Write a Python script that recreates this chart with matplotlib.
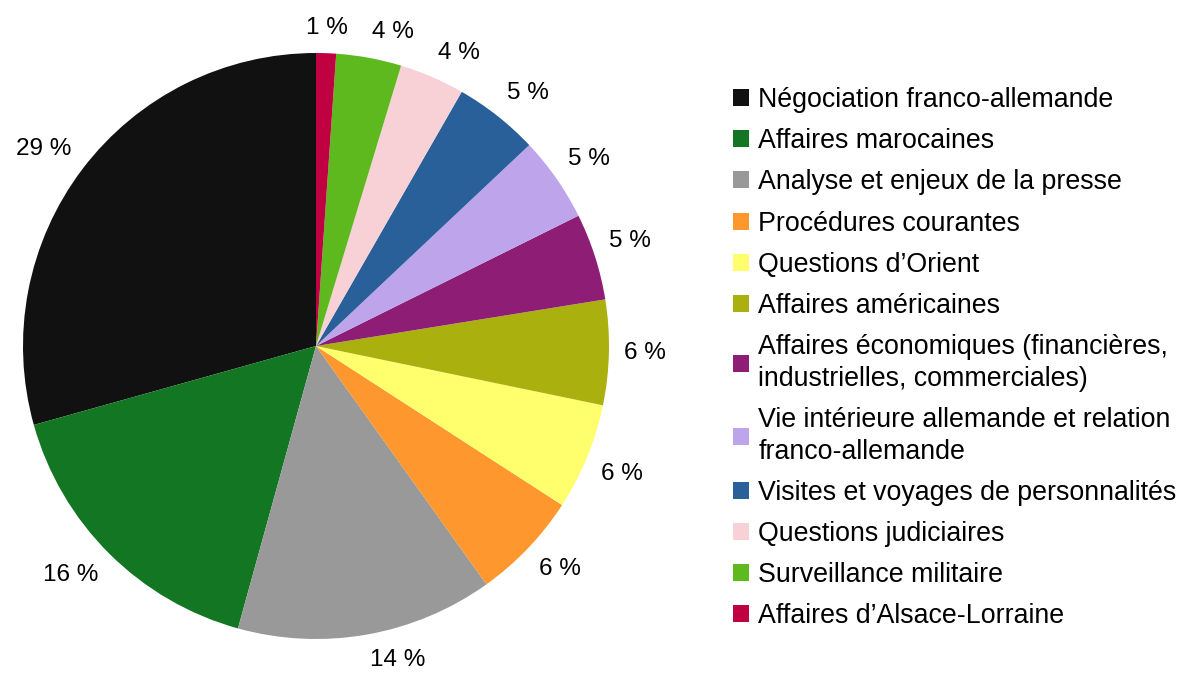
import numpy as np
import matplotlib.pyplot as plt

# Données (parts)
categories = [
    'Négociation franco-allemande',
    'Affaires marocaines',
    'Analyse et enjeux de la presse',
    'Procédures courantes',
    'Questions d’Orient',
    'Affaires américaines',
    'Affaires économiques (financières,\nindustrielles, commerciales)',
    'Vie intérieure allemande et relation\nfranco-allemande',
    'Visites et voyages de personnalités',
    'Questions judiciaires',
    'Surveillance militaire',
    'Affaires d’Alsace-Lorraine',
]
parts = [29.4, 16.4, 14.2, 6.0, 5.9, 5.8, 4.8, 4.7, 4.7, 3.6, 3.6, 1.1]
couleurs = ['#111111', '#127622', '#999999', '#ff972f', '#ffff6d', '#aab00d',
            '#8d1d75', '#bea4eb', '#2a6099', '#f7d1d5', '#5eb91e', '#bf0041']

plt.rcParams['font.family'] = ['Liberation Sans', 'DejaVu Sans']

fig = plt.figure(figsize=(11.91, 6.73), dpi=100)

# centre du camembert ~ (316, 346) px, rayon ~293 px
r_px = 293 * 1.25
cx, cy = 316, 673 - 346
ax = fig.add_axes([(cx - r_px) / 1191, (cy - r_px) / 673, 2 * r_px / 1191, 2 * r_px / 673])

total = sum(parts)
etiquettes = [f'{round(p / total * 100):.0f} %' for p in parts]

wedges, _ = ax.pie(parts, colors=couleurs, startangle=90, counterclock=True,
                   wedgeprops={'linewidth': 0})
ax.set_aspect('equal')

# étiquettes posées par un coin du texte, comme dans LibreOffice
R = 1.05
for w, lab in zip(wedges, etiquettes):
    a = np.deg2rad((w.theta1 + w.theta2) / 2)
    c, s = np.cos(a), np.sin(a)
    ha = 'left' if c > 0.1 else ('right' if c < -0.1 else 'center')
    va = 'bottom' if s > 0.1 else ('top' if s < -0.1 else 'center')
    ax.text(R * c, R * s, lab, ha=ha, va=va, fontsize=17.5)

leg = fig.legend(wedges, categories, loc='upper left',
                 bbox_to_anchor=(733 / 1191, 1 - 87 / 673),
                 frameon=False, fontsize=19.3, borderpad=0, borderaxespad=0,
                 handlelength=0.6, handleheight=0.6, handletextpad=0.35,
                 labelspacing=0.567)
for t in leg.get_texts():
    t.set_linespacing(1.28)

fig.savefig('out.png', dpi=100)
